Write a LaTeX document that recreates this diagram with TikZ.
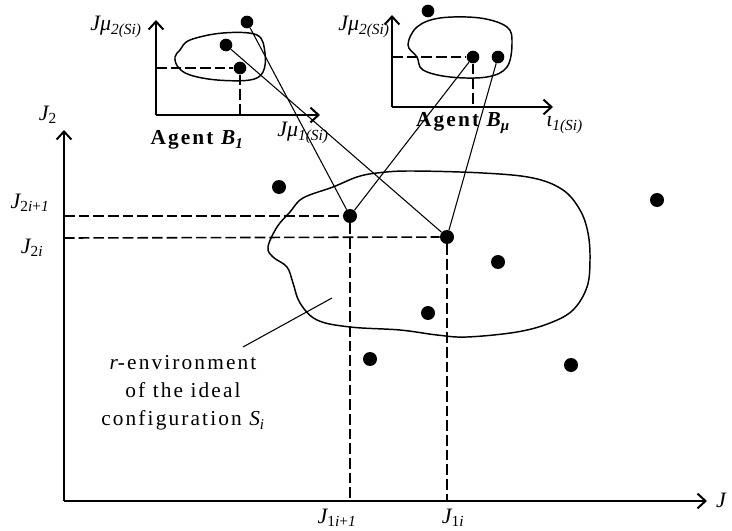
\documentclass[tikz,border=0pt]{standalone}
\usepackage{fontspec}
\setmainfont{Liberation Serif}
\newfontfamily\spacedfont[LetterSpace=10]{Liberation Serif}
\usetikzlibrary{arrows.meta}
\tikzset{
  axis/.style={line width=1.5pt,-{Straight Barb[length=6pt,width=11pt]}},
  dashline/.style={line width=1.2pt,dash pattern=on 8pt off 3pt},
  dot/.style={circle,fill=black,inner sep=0pt,minimum size=10.5pt},
  sdot/.style={circle,fill=black,inner sep=0pt,minimum size=9.5pt},
  link/.style={line width=0.8pt},
  blob/.style={line width=1.1pt},
  lab/.style={inner sep=0pt,font=\fontsize{16.5}{18}\selectfont},
  agent/.style={inner sep=0pt,font=\spacedfont\fontsize{16}{18}\selectfont\bfseries},
  note/.style={inner sep=0pt,align=center,font=\spacedfont\fontsize{16}{21}\selectfont}
}
\begin{document}
\begin{tikzpicture}[x=0.75pt,y=-0.75pt]
\useasboundingbox (0,0) rectangle (732,531);
% main axes
\coordinate (O) at (64,501);
\coordinate (Ytip) at (64,130);
\coordinate (Xtip) at (707,501);
\draw[axis] (O) -- (Ytip);
\draw[axis] (O) -- (Xtip);
\node[lab] (lJ2) at (48,115) {\itshape J\textsubscript{\upshape 2}};
\node[lab] (lJ) at (721,500) {\itshape J};
\node[lab] (lJ2i1) at (30,203) {\itshape J\textsubscript{\upshape 2\itshape i\upshape +\itshape 1}};
\node[lab] (lJ2i) at (32,248) {\itshape J\textsubscript{\upshape 2\itshape i}};
\node[lab] (lJ1i1) at (337,518) {\itshape J\textsubscript{\upshape 1\itshape i\upshape +\itshape 1}};
\node[lab] (lJ1i) at (453,518) {\itshape J\textsubscript{\upshape 1\itshape i}};
% main blob
\draw[blob] plot[smooth cycle,tension=0.6] coordinates {
(268,247) (277,227) (290,212) (303,198) (333,187) (357,177) (377,173) (410,171)
(483,173) (533,178) (563,190) (580,210) (588,233) (590,260) (587,287) (573,310)
(550,323) (517,332) (467,337) (437,335) (400,330) (350,327) (317,320) (300,303)
(293,283) (287,267) (273,257)};
% main dots
\node[dot] (A) at (350,216) {};
\node[dot] (B) at (447,237) {};
\node[dot] (d1) at (279,187) {};
\node[dot] (d2) at (657,200) {};
\node[dot] (d3) at (498,262) {};
\node[dot] (d4) at (428,313) {};
\node[dot] (d5) at (370,359) {};
\node[dot] (d6) at (571,365) {};
% dashed projections
\coordinate (yA) at (64,216);
\coordinate (yB) at (64,238);
\coordinate (xA) at (350,501);
\coordinate (xB) at (447,501);
\draw[dashline] (yA) -- (A);
\draw[dashline] (yB) -- (B);
\draw[dashline] (A) -- (xA);
\draw[dashline] (B) -- (xB);
% note
\node[note] (note) at (183,393) {{\itshape r}-environment\\of the ideal\\configuration {\itshape S\textsubscript{i}}};
\coordinate (noteend) at (243,347);
\coordinate (blobpt) at (332,298);
\draw[link] (noteend) -- (blobpt);
% Agent B1 plot
\coordinate (O1) at (156,115);
\coordinate (Y1) at (156,20);
\coordinate (X1) at (320,115);
\draw[axis] (O1) -- (Y1);
\draw[axis] (O1) -- (X1);
\draw[blob] plot[smooth cycle,tension=0.6] coordinates {
(190,40) (223,33) (257,35) (265,53) (263,72) (250,80) (217,80) (190,75) (178,67) (175,57) (180,50)};
\node[sdot] (p1) at (247,22) {};
\node[sdot] (p2) at (226,45) {};
\node[sdot] (p3) at (240,68) {};
\coordinate (y1p) at (156,68);
\coordinate (x1p) at (240,115);
\draw[dashline] (y1p) -- (p3);
\draw[dashline] (p3) -- (x1p);
\node[lab,anchor=east] (l1y) at (142,27) {\itshape Jμ\textsubscript{2(Si)}};
\node[lab] (l1x) at (303,133) {\itshape Jμ\textsubscript{1(Si)}};
\node[agent] (ag1) at (197,140) {Agent {\itshape B\textsubscript{1}}};
% Agent Bmu plot
\coordinate (O2) at (392,107);
\coordinate (Y2) at (392,15);
\coordinate (X2) at (553,107);
\draw[axis] (O2) -- (Y2);
\draw[axis] (O2) -- (X2);
\draw[blob] plot[smooth cycle,tension=0.6] coordinates {
(408,45) (417,27) (440,18) (480,18) (507,27) (512,43) (507,67) (487,77) (450,77) (423,70) (417,57)};
\node[sdot] (q0) at (428,11) {};
\node[sdot] (q1) at (473,57) {};
\node[sdot] (q2) at (498,57) {};
\coordinate (y2p) at (392,57);
\coordinate (x2p) at (473,107);
\draw[dashline] (y2p) -- (q1);
\draw[dashline] (q1) -- (x2p);
\node[lab,anchor=east] (l2y) at (390,27) {\itshape Jμ\textsubscript{2(Si)}};
\node[lab,anchor=west] (l2x) at (546,125) {\itshape ι\textsubscript{1(Si)}};
\node[agent] (ag2) at (463,123) {Agent {\itshape B\textsubscript{μ}}};
% links
\draw[link] (A) -- (p1);
\draw[link] (B) -- (p2);
\draw[link] (A) -- (q1);
\draw[link] (B) -- (q2);
\end{tikzpicture}
\end{document}
